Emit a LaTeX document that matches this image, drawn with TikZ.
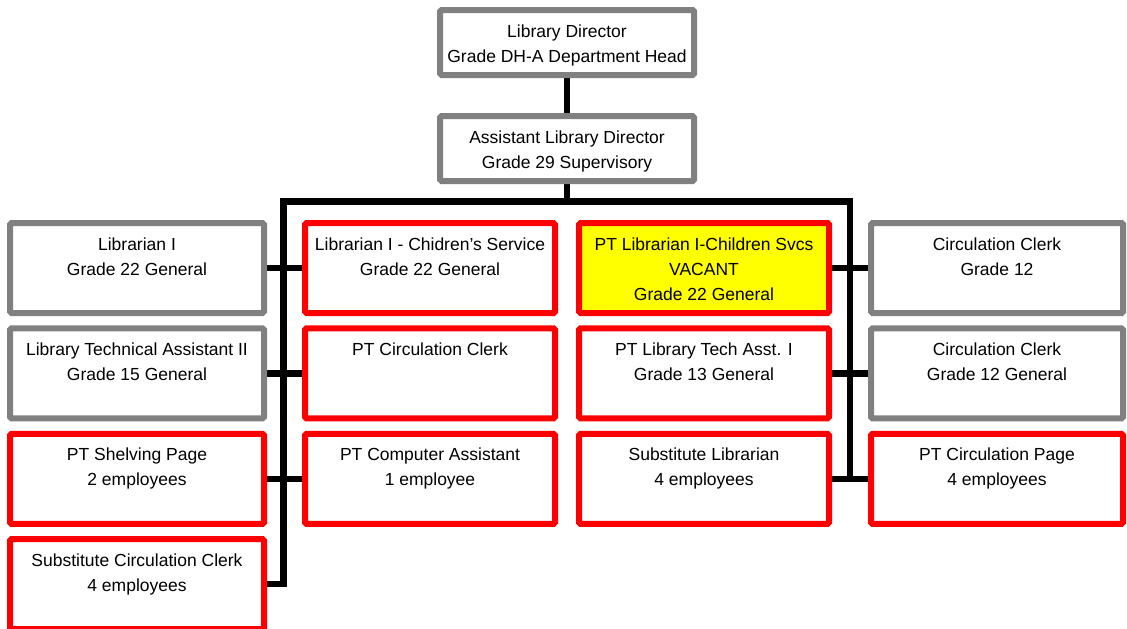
\documentclass[tikz,border=0pt]{standalone}
\usepackage{fontspec}
\setmainfont{Liberation Sans}
\usetikzlibrary{backgrounds}
\definecolor{boxgray}{RGB}{128,128,128}
\definecolor{boxred}{RGB}{255,0,0}
\definecolor{boxyellow}{RGB}{255,255,0}
\newcommand\bt[3]{\parbox[c][#2pt][t]{#1pt}{\centering\rule{0pt}{27pt}#3\par}}
\tikzset{
  every node/.style={font=\fontsize{17.5}{25}\selectfont},
  orgbox/.style={draw, line width=6pt, fill=white, inner sep=0pt, outer sep=0pt, rounded corners=1.5pt},
  gbox/.style={orgbox, draw=boxgray},
  rbox/.style={orgbox, draw=boxred},
  ybox/.style={orgbox, draw=boxred, fill=boxyellow},
  conn/.style={line width=6.5pt, black, line join=miter}
}
\begin{document}
\begin{tikzpicture}[x=1pt,y=-1pt]
\useasboundingbox (0,0) rectangle (1127,629);
\clip (0,0) rectangle (1127,629);
% top
\node[gbox] (dir)  at (567,42.5)  {\bt{254}{65}{Library Director\\Grade DH-A Department Head}};
\node[gbox] (asst) at (567,148.5) {\bt{254}{65}{Assistant Library Director\\Grade 29 Supervisory}};
% column 1
\node[gbox] (lib1)    at (137,268)   {\bt{254}{90}{Librarian I\\Grade 22 General}};
\node[gbox] (lta)     at (137,373.4) {\bt{254}{90}{Library Technical Assistant II\\Grade 15 General}};
\node[rbox] (shelf)   at (137,478.8) {\bt{254}{90}{PT Shelving Page\\2 employees}};
\node[rbox] (subcirc) at (137,584.2) {\bt{254}{90}{Substitute Circulation Clerk\\4 employees}};
% column 2
\node[rbox] (chs)   at (430,268)   {\bt{250}{90}{Librarian I - Chidren\symbol{39}s Service\\Grade 22 General}};
\node[rbox] (ptcc)  at (430,373.4) {\bt{250}{90}{PT Circulation Clerk}};
\node[rbox] (ptca)  at (430,478.8) {\bt{250}{90}{PT Computer Assistant\\1 employee}};
% column 3
\node[ybox] (ptlib)  at (704,268)   {\bt{250}{90}{PT Librarian I-Children Svcs\\VACANT\\Grade 22 General}};
\node[rbox] (ptlta)  at (704,373.4) {\bt{250}{90}{PT Library Tech Asst. I\\Grade 13 General}};
\node[rbox] (sublib) at (704,478.8) {\bt{250}{90}{Substitute Librarian\\4 employees}};
% column 4
\node[gbox] (cc1)    at (997,268)   {\bt{252}{90}{Circulation Clerk\\Grade 12}};
\node[gbox] (cc2)    at (997,373.4) {\bt{252}{90}{Circulation Clerk\\Grade 12 General}};
\node[rbox] (pcpage) at (997,478.8) {\bt{252}{90}{PT Circulation Page\\4 employees}};
% connectors
\coordinate (busL) at (283.5,201.5);
\coordinate (busR) at (850,201.5);
\begin{scope}[on background layer]
  \draw[conn] (dir.south) -- (asst.north);
  \draw[conn] (asst.south) -- (asst.south |- busL);
  \draw[conn] (subcirc.east) -| (busL) -- (busR) -- ([yshift=-3.25pt]busR |- sublib.east);
  \draw[conn] (lib1.east) -- (chs.west);
  \draw[conn] (lta.east) -- (ptcc.west);
  \draw[conn] (shelf.east) -- (ptca.west);
  \draw[conn] (ptlib.east) -- (cc1.west);
  \draw[conn] (ptlta.east) -- (cc2.west);
  \draw[conn] (sublib.east) -- (pcpage.west);
\end{scope}
\end{tikzpicture}
\end{document}
